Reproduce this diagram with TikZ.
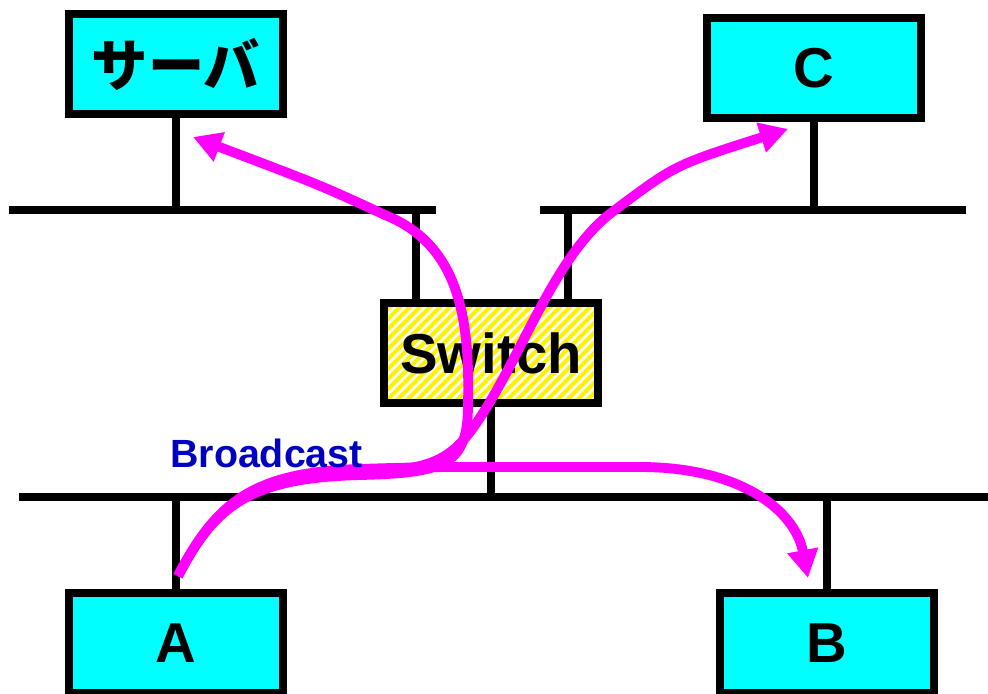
\documentclass[tikz,border=0pt]{standalone}
\usepackage{fontspec}
\setmainfont{Liberation Sans}
\newfontfamily\jpfont{Noto Sans CJK JP}
\usetikzlibrary{arrows.meta,calc}
\definecolor{hostcyan}{RGB}{0,255,255}
\definecolor{pathmag}{RGB}{255,0,255}
\definecolor{labelblue}{RGB}{0,0,192}
\begin{document}
\begin{tikzpicture}[x=0.025cm,y=-0.025cm,
	host/.style={draw=black,line width=5.7pt,fill=hostcyan,minimum width=5.35cm,minimum height=2.5cm,inner sep=0pt,font=\fontsize{40}{48}\selectfont\bfseries},
	wire/.style={line width=5.7pt},
	flow/.style={draw=pathmag,line width=7pt,-{Triangle[length=20pt,width=21pt]}}]
				\useasboundingbox (0,0) rectangle (988,694);
				
				% Vẽ các đường bus
				\coordinate (busl1) at (9,210);
				\coordinate (busl2) at (436,210);
				\coordinate (busr1) at (540,210);
				\coordinate (busr2) at (966,210);
				\coordinate (busb1) at (19,497);
				\coordinate (busb2) at (995,497);
				\draw[wire] (busl1) -- (busl2);
				\draw[wire] (busr1) -- (busr2);
				\draw[wire] (busb1) -- (busb2);
				
				% Vẽ các máy
				\node[host] (server) at (176,64) {\jpfont\bfseries サーバ};
				\node[host] (c) at (814,68) {C};
				\node[host] (a) at (176,643) {A};
				\node[host] (b) at (827,643) {B};
				\node[host,fill=white,path picture={
					\foreach \k in {-12,...,23}
						\draw[yellow,line width=3pt] ($(path picture bounding box.south west)+(\k*10,0)$) -- ++(120,-120);
				}] (sw) at (491,353) {Switch};
				
				% Nối máy với bus
				\coordinate (swl) at (416,210);
				\coordinate (swr) at (568,210);
				\draw[wire] (server.south) -- (server.south |- busl1);
				\draw[wire] (c.south) -- (c.south |- busr1);
				\draw[wire] (swl) -- (swl |- sw.north);
				\draw[wire] (swr) -- (swr |- sw.north);
				\draw[wire] (sw.south) -- (sw.south |- busb1);
				\draw[wire] (a.north) -- (a.north |- busb1);
				\draw[wire] (b.north) -- (b.north |- busb1);
				
				% Ghi chú cho các đường broadcast
				\coordinate (asrc) at (178,576);
				\coordinate (srvtip) at (193,137);
				\coordinate (ctip) at (788,129);
				\coordinate (btip) at (808,578);
				\draw[flow] (asrc) .. controls (215,505) and (250,478) .. (360,475) .. controls (445,473) and (468,465) .. (468,405) .. controls (470,320) and (460,245) .. (385,215) .. controls (320,185) .. (srvtip);
				\draw[flow] (asrc) .. controls (215,505) and (250,476) .. (360,472) .. controls (420,470) and (445,465) .. (470,432) .. controls (520,365) and (552,255) .. (615,210) .. controls (675,165) .. (ctip);
				\draw[flow] (asrc) .. controls (215,505) and (250,472) .. (360,469) .. controls (420,467) and (440,467) .. (470,467) -- (640,467) .. controls (740,467) and (795,510) .. (btip);
				\node[anchor=base west,inner sep=0pt,text=labelblue,font=\fontsize{28}{34}\selectfont\bfseries] (bclabel) at (170,468) {Broadcast};
			\end{tikzpicture}
\end{document}
